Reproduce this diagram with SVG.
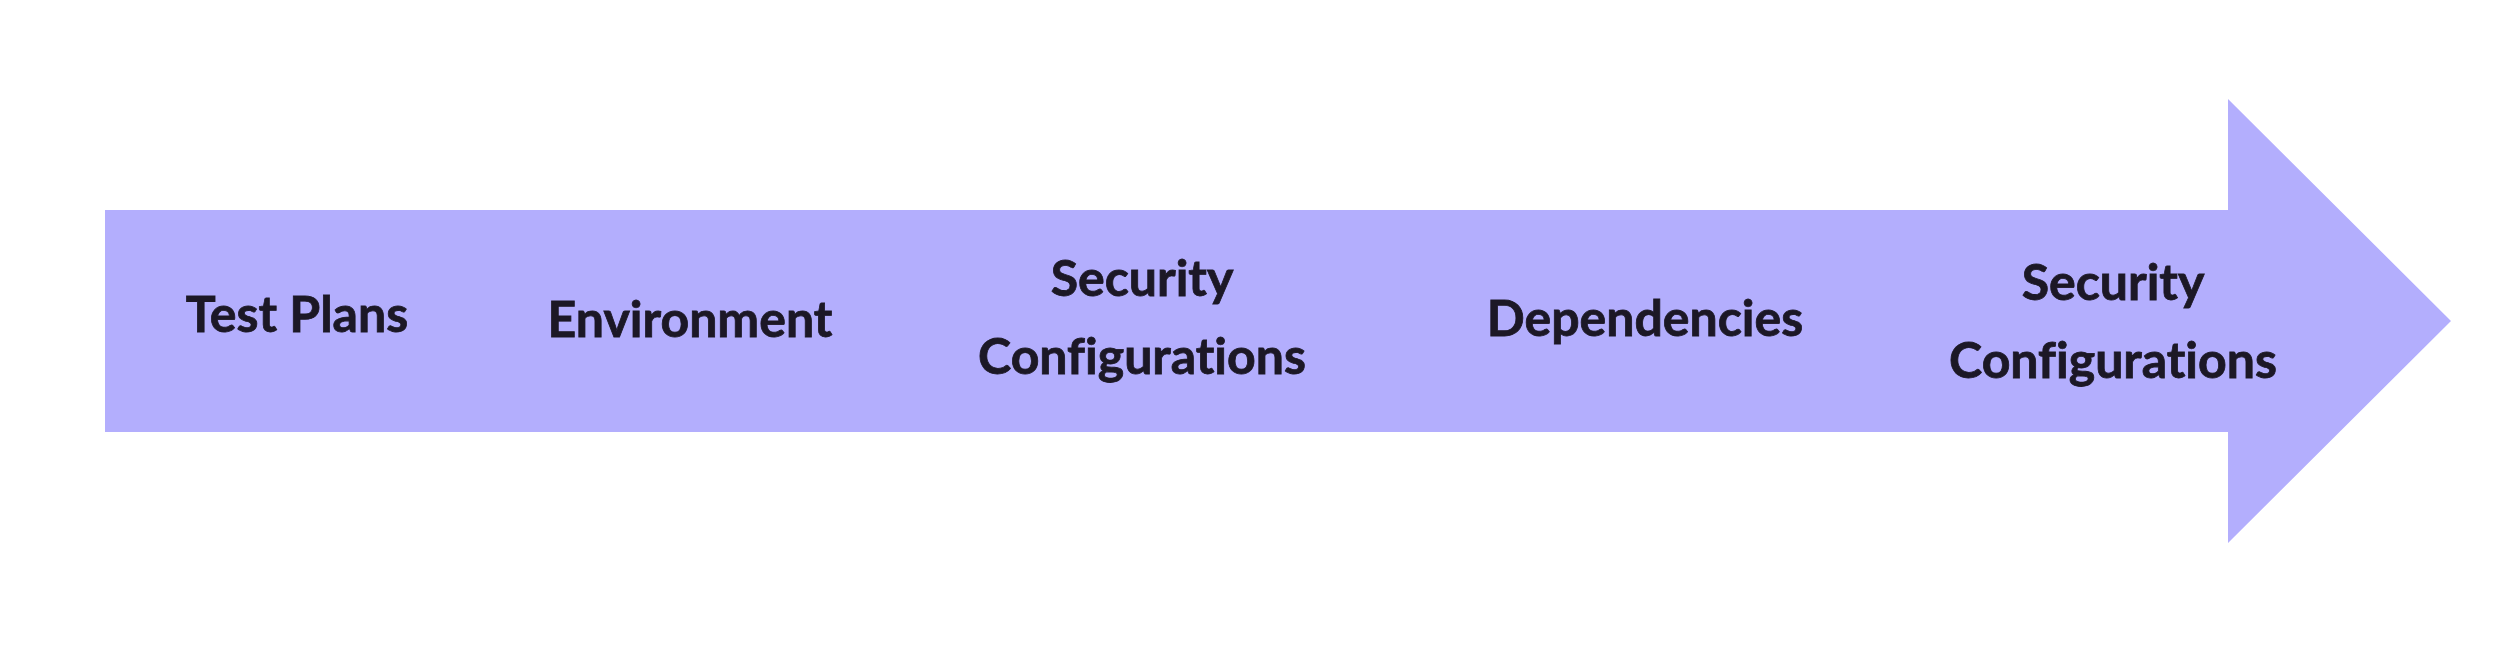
<svg xmlns="http://www.w3.org/2000/svg" width="2496" height="653" viewBox="0 0 2496 653">
<style>
.lbl{font-family:Lato,"Open Sans","Liberation Sans",sans-serif;font-weight:700;font-size:50px;fill:#1c1826;stroke:#1c1826;stroke-width:0.8px;text-anchor:middle;font-variant-ligatures:none;font-feature-settings:"liga" 0,"clig" 0}
.arrow{fill:#b3aefd}
</style>
<rect width="2496" height="653" fill="#ffffff"/>
<g id="arrow">
<path class="arrow" d="M105,210 H2228 V99 L2451,321 L2228,543 V432 H105 Z"/>
</g>
<g id="connectors"></g>
<g id="node-test-plans"><text class="lbl" x="297" y="332">Test Plans</text></g>
<g id="node-environment"><text class="lbl" x="690" y="337">Environment</text></g>
<g id="node-security-1"><text class="lbl" x="1142" y="296">Security</text><text class="lbl" x="1142" y="374">Configurations</text></g>
<g id="node-dependencies"><text class="lbl" x="1645" y="336">Dependencies</text></g>
<g id="node-security-2"><text class="lbl" x="2113" y="300">Security</text><text class="lbl" x="2113" y="378">Configurations</text></g>
</svg>
